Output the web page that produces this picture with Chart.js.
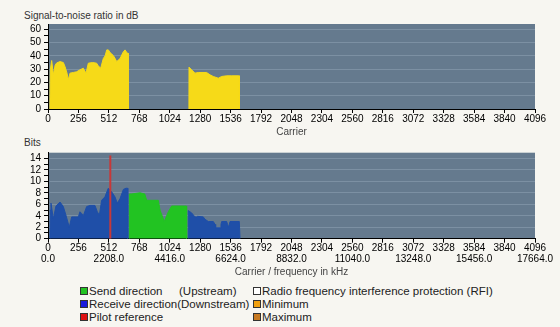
<!DOCTYPE html>
<html>
<head>
<meta charset="utf-8">
<script src="https://cdn.jsdelivr.net/npm/chart.js@4/dist/chart.umd.min.js"></script>
<style>
  html, body { margin: 0; padding: 0; background: #f7f6f1; }
  body { width: 560px; height: 327px; position: relative; overflow: hidden;
         font-family: "Liberation Sans", Arial, sans-serif; }
  canvas { position: absolute; left: 0; }
  .ttl { position: absolute; font-size: 10px; color: #333; white-space: nowrap; line-height: 12px; }
  .lg { position: absolute; font-size: 11.5px; color: #222; white-space: nowrap; line-height: 13px; }
  .sq { display: inline-block; width: 6px; height: 6px; border: 1px solid #333; vertical-align: 0px; margin-right: 1px; }
</style>
</head>
<body>
<div class="ttl" style="left:24px; top:10px;">Signal-to-noise ratio in dB</div>
<div class="ttl" style="left:24px; top:137px;">Bits</div>
<canvas id="snr" width="560" height="140" style="top:0px"></canvas>
<canvas id="bits" width="560" height="140" style="top:140px"></canvas>

<div class="lg" style="left:80px; top:285px;"><span class="sq" style="background:#22c322"></span>Send direction</div>
<div class="lg" style="left:179px; top:285px;">(Upstream)</div>
<div class="lg" style="left:80px; top:298px;"><span class="sq" style="background:#1a1adc"></span>Receive direction(Downstream)</div>
<div class="lg" style="left:80px; top:311px;"><span class="sq" style="background:#dd1111"></span>Pilot reference</div>
<div class="lg" style="left:253px; top:285px;"><span class="sq" style="background:#ffffff"></span>Radio frequency interference protection (RFI)</div>
<div class="lg" style="left:253px; top:298px;"><span class="sq" style="background:#f0a010"></span>Minimum</div>
<div class="lg" style="left:253px; top:311px;"><span class="sq" style="background:#c87a22"></span>Maximum</div>

<script>
// ---- Data ----
const carrierTicks = [0,256,512,768,1024,1280,1536,1792,2048,2304,2560,2816,3072,3328,3584,3840,4096];
const freqTickLabels = ['0.0','','2208.0','','4416.0','','6624.0','','8832.0','','11040.0','','13248.0','','15456.0','','17664.0'];
const snrTicks = [0,5,10,15,20,25,30,35,40,45,50,55,60];
const bitsTicks = [0,1,2,3,4,5,6,7,8,9,10,11,12,13,14];

// SNR (dB), first block
const snrCarrierA = [16,20,31,45,60,73,101,129,143,160,171,185,213,240,269,297,320,339,375,409,423,443,465,480,494,508,522,536,555,578,606,633,648,667,674,675];
const snrDbA      = [0,30,36.5,25.7,33,34.7,35.7,35,32,27,22,27,27.5,28,29.5,30.7,27,34.5,35,34.5,32.5,30.7,38,40,44.5,44.5,42.5,41.5,39.5,35.7,38,43,44.5,42,42,0];
// SNR (dB), second block
const snrCarrierB = [1185,1186,1208,1236,1264,1334,1363,1390,1432,1461,1503,1545,1600,1609,1610];
const snrDbB      = [0,31.5,29.5,27,27.5,27.5,25.7,24.5,23.2,24.5,25,25,25,25,0];

// Bits, receive direction (downstream), first block
const downCarrierA = [16,20,25,45,67,101,129,151,179,199,227,255,269,283,297,325,353,395,415,432,451,479,507,535,563,583,606,634,656,670,671];
const downBitsA    = [0,5,6.2,3.5,5.7,6.4,5.6,4.1,2,3.8,3.8,3.8,4.7,4.4,4,5.6,5.8,5.8,4.7,4.1,6.7,7.3,8.8,8.2,7.3,6.2,7,8.6,8.8,8.8,0];
// Bits, send direction (upstream)
const upCarrier = [682,684,700,774,814,830,928,942,978,1012,1040,1138,1165,1166];
const upBits    = [0,7.8,7.8,8,7.8,6.7,6.7,5,3,4.7,5.7,5.7,5.7,0];
// Bits, receive direction (downstream), second block
const downCarrierB = [1179,1180,1208,1236,1250,1258,1306,1320,1348,1390,1405,1410,1447,1455,1461,1503,1510,1517,1525,1531,1609,1614,1615];
const downBitsB    = [0,4.9,4.5,3.8,3.8,3.9,3.8,3.4,3,3,2.5,1.9,1.9,2.5,3,3,2.5,2,2.5,3,3,3,0];
// Pilot reference
const pilotCarrier = [524,524];
const pilotBits    = [0,14.5];

// ---- Styling ----
const PLOT_BG = '#657a8e';
const GRID = '#7c90a3';
const FONT = { family: '"Liberation Sans", Arial, sans-serif', size: 10 };

const toXY = (xs, ys) => xs.map((x, i) => ({ x: x, y: ys[i] }));

const plotBg = {
  id: 'plotBg',
  beforeDraw(chart) {
    const { ctx, chartArea: a } = chart;
    ctx.save();
    ctx.fillStyle = PLOT_BG;
    ctx.fillRect(a.left, a.top, a.right - a.left, a.bottom - a.top);
    ctx.restore();
  }
};

function area(xs, ys, color) {
  return { data: toXY(xs, ys), backgroundColor: color, borderColor: color, borderWidth: 1,
           fill: 'origin', pointRadius: 0, tension: 0 };
}

function xScale(title, twoRows, titlePadBottom) {
  return {
    type: 'linear', min: 0, max: 4096,
    afterBuildTicks: s => { s.ticks = carrierTicks.map(v => ({ value: v })); },
    afterFit: s => { s.height = twoRows ? 41.3 : 31; },
    ticks: {
      autoSkip: false, maxRotation: 0, minRotation: 0, padding: 0, color: '#000',
      font: twoRows ? { ...FONT, lineHeight: 1.07 } : FONT,
      callback: (v, i) => twoRows ? [String(carrierTicks[i]), freqTickLabels[i]] : String(carrierTicks[i])
    },
    grid: { drawOnChartArea: false, tickLength: 4, tickColor: '#000' },
    border: { display: true, color: '#000', width: 1 },
    title: { display: true, text: title, color: '#444', font: FONT, padding: { top: 0, bottom: titlePadBottom } }
  };
}

function yScale(max, tickVals, labelStep) {
  return {
    min: 0, max: max,
    afterBuildTicks: s => { s.ticks = tickVals.map(v => ({ value: v })); },
    afterFit: s => { s.width = 48; },
    ticks: { autoSkip: false, padding: 3, color: '#000', font: FONT,
             callback: v => (v % labelStep === 0 ? String(v) : '') },
    grid: {
      drawOnChartArea: true, tickLength: 4, tickColor: '#000',
      color: ctx => (ctx.tick && ctx.tick.value % labelStep === 0 && ctx.tick.value > 0) ? GRID : 'rgba(0,0,0,0)'
    },
    border: { display: true, color: '#000', width: 1 }
  };
}

const common = {
  responsive: false, animation: false, devicePixelRatio: 1,
  plugins: { legend: { display: false }, tooltip: { enabled: false } },
  elements: { line: { borderJoinStyle: 'round' } }
};

new Chart(document.getElementById('snr'), {
  type: 'line',
  data: { datasets: [
    area(snrCarrierA, snrDbA, '#f6da18'),
    area(snrCarrierB, snrDbB, '#f6da18')
  ] },
  options: { ...common,
    layout: { padding: { left: 0, right: 25, top: 24, bottom: 0 } },
    scales: { x: xScale('Carrier', false, 2), y: yScale(64, snrTicks, 10) }
  },
  plugins: [plotBg]
});

new Chart(document.getElementById('bits'), {
  type: 'line',
  data: { datasets: [
    { data: toXY(pilotCarrier, pilotBits), borderColor: '#c83838', borderWidth: 2, fill: false, pointRadius: 0 },
    area(downCarrierA, downBitsA, '#1f4fa8'),
    area(upCarrier, upBits, '#22c322'),
    area(downCarrierB, downBitsB, '#1f4fa8')
  ] },
  options: { ...common,
    layout: { padding: { left: 0, right: 25, top: 12.7, bottom: 0 } },
    scales: { x: xScale('Carrier / frequency in kHz', true, 2), y: yScale(15, bitsTicks, 2) }
  },
  plugins: [plotBg]
});
</script>
</body>
</html>
